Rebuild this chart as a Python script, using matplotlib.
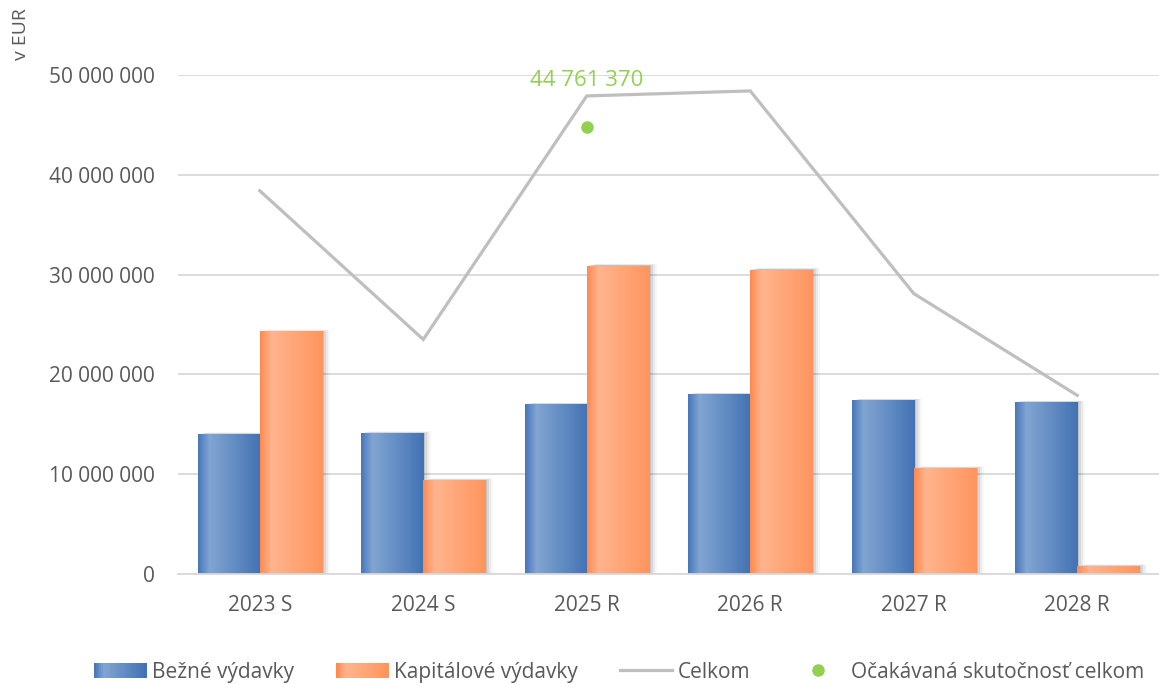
import numpy as np
import matplotlib
matplotlib.use("Agg")
import matplotlib.pyplot as plt
from matplotlib.patches import Rectangle
from matplotlib.lines import Line2D
from matplotlib.legend_handler import HandlerBase
from matplotlib.colors import to_rgb

# ── Data ─────────────────────────────────────────────
categories = ["2023 S", "2024 S", "2025 R", "2026 R", "2027 R", "2028 R"]
bezne      = [14.0e6, 14.1e6, 17.0e6, 18.0e6, 17.4e6, 17.2e6]
kapitalove = [24.3e6, 9.4e6, 30.9e6, 30.5e6, 10.6e6, 0.8e6]
celkom     = [38.4e6, 23.5e6, 47.9e6, 48.4e6, 28.1e6, 17.9e6]
ocak_idx   = 2
ocak_value = 44761370
yticks     = [0, 10e6, 20e6, 30e6, 40e6, 50e6]
# ─────────────────────────────────────────────────────

TXT = "#595959"
BLUE = ("#4878bb", "#82a5d2", "#4372b4")
ORANGE = ("#ff8a50", "#ffb48e", "#ff955e")
LINE_C = "#bfbfbf"
GREEN = "#92d050"

plt.rcParams["font.family"] = ["Open Sans", "DejaVu Sans"]


def gradient_rgb(cols, n=64):
    left, peak, right = (np.array(to_rgb(c)) for c in cols)
    t = np.linspace(0, 1, n)
    out = np.zeros((n, 3))
    p = 0.18
    for i, v in enumerate(t):
        if v < p:
            a = v / p
            out[i] = left * (1 - a) + peak * a
        else:
            a = (v - p) / (1 - p)
            out[i] = peak * (1 - a) + right * a
    return out


def grad_bar(ax, x0, w, h, cols):
    # soft shadow to the right
    px = 1 / 163.5
    for k, al in enumerate([0.10, 0.07, 0.05, 0.03]):
        ax.add_patch(Rectangle((x0 + (2 + 2 * k) * px, 0), w, h + (1 + k) * 45000,
                               facecolor="black", alpha=al, lw=0, zorder=1))
    img = gradient_rgb(cols)[None, :, :]
    im = ax.imshow(img, extent=(x0, x0 + w, 0, h), aspect="auto",
                   interpolation="bilinear", zorder=2)
    clip = Rectangle((x0, 0), w, h, transform=ax.transData)
    im.set_clip_path(clip)


class GradHandler(HandlerBase):
    def __init__(self, cols):
        super().__init__()
        self.cols = cols

    def create_artists(self, legend, orig_handle, xdescent, ydescent,
                       width, height, fontsize, trans):
        n = 30
        rgb = gradient_rgb(self.cols, n)
        arts = []
        for i in range(n):
            r = Rectangle((-xdescent + width * i / n, -ydescent), width / n + 0.3, height,
                          facecolor=rgb[i], lw=0, transform=trans)
            arts.append(r)
        return arts


fig = plt.figure(figsize=(11.59, 6.84), dpi=100)
ax = fig.add_axes([0.1536, 0.1608, 0.8464, 0.7296])

x = np.arange(len(categories))
bw = 0.38
for i in range(len(categories)):
    grad_bar(ax, x[i] - bw, bw, bezne[i], BLUE)
    grad_bar(ax, x[i], bw, kapitalove[i], ORANGE)

ax.plot(x, celkom, color=LINE_C, lw=2.3, zorder=3, solid_joinstyle="miter")
ax.plot([x[ocak_idx]], [ocak_value], "o", color=GREEN, ms=8, zorder=4)
ax.text(x[ocak_idx], 49.4e6, f"{ocak_value:,}".replace(",", " "), color=GREEN,
        fontsize=16, ha="center", va="center", clip_on=False, zorder=5)

ax.set_xlim(-0.5, len(categories) - 0.5)
ax.set_ylim(0, 50e6)
ax.set_yticks(yticks)
ax.set_yticklabels([f"{int(v):,}".replace(",", " ") for v in yticks])
ax.set_xticks(x)
ax.set_xticklabels(categories)
ax.tick_params(axis="both", length=0, labelsize=15, colors=TXT)
ax.tick_params(axis="y", pad=17)
ax.tick_params(axis="x", pad=15)
ax.grid(axis="y", color="#d9d9d9", lw=1.3, zorder=0)
ax.set_axisbelow(True)
for s in ["top", "right", "left"]:
    ax.spines[s].set_visible(False)
ax.spines["bottom"].set_color("#d9d9d9")
ax.spines["bottom"].set_linewidth(1.3)

fig.text(0.018, 0.95, "v EUR", rotation=90, color=TXT, fontsize=14,
         ha="center", va="center")

h_b = Rectangle((0, 0), 1, 1)
h_k = Rectangle((0, 0), 1, 1)
h_c = Line2D([], [], color=LINE_C, lw=2.3)
h_o = Line2D([], [], marker="o", color=GREEN, ls="", ms=8)
fig.legend([h_b, h_k, h_c, h_o],
           ["Bežné výdavky", "Kapitálové výdavky", "Celkom", "Očakávaná skutočnosť celkom"],
           handler_map={h_b: GradHandler(BLUE), h_k: GradHandler(ORANGE)},
           loc="center", bbox_to_anchor=(0.534, 0.017), ncol=4, frameon=False,
           fontsize=15, labelcolor=TXT, handlelength=2.5, handleheight=0.75,
           handletextpad=0.3, columnspacing=2.0, borderpad=0.2)

plt.savefig("out.png", dpi=100)
